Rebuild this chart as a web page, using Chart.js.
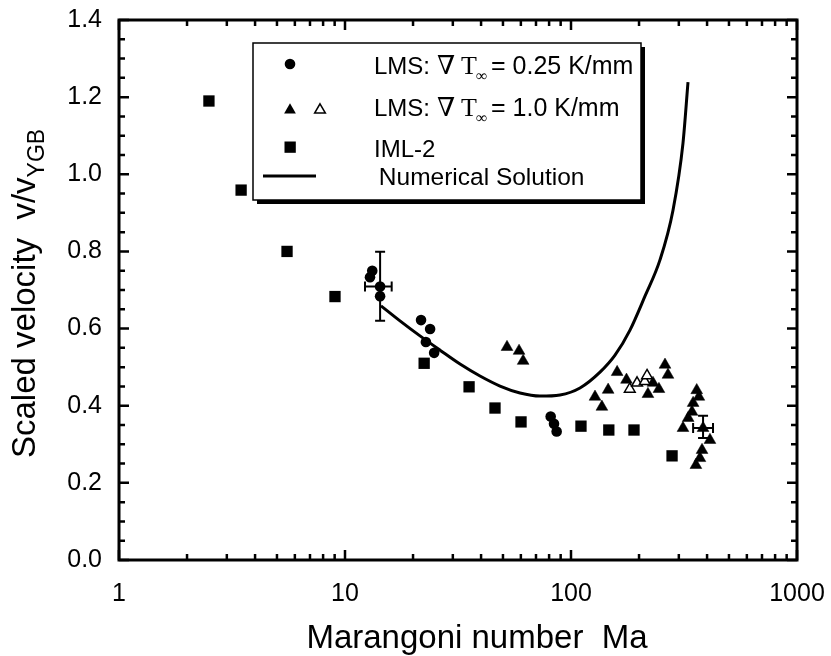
<!DOCTYPE html>
<html><head><meta charset="utf-8">
<script src="https://cdn.jsdelivr.net/npm/chart.js@4.4.0/dist/chart.umd.min.js"></script>
<style>html,body{margin:0;padding:0;background:#fff;overflow:hidden}</style>
</head><body>
<canvas id="c" width="831" height="656"></canvas>
<script>
// ---- data ----
const circleMa = [13.2, 12.9, 14.3, 14.3, 21.7, 23.8, 22.8, 24.8, 81.3, 84.1, 86.4];
const circleV  = [0.750, 0.733, 0.709, 0.684, 0.622, 0.599, 0.565, 0.537, 0.372, 0.353, 0.333];

const triMa = [52.1, 58.9, 61.4, 127.7, 137, 146, 160, 176, 219, 230.6, 245, 260.6, 268.6,
               360, 368, 347, 343, 330, 313, 384, 412, 380, 372, 357];
const triV  = [0.552, 0.542, 0.516, 0.423, 0.397, 0.441, 0.487, 0.467, 0.430, 0.459, 0.443, 0.506, 0.480,
               0.440, 0.423, 0.407, 0.384, 0.368, 0.342, 0.342, 0.311, 0.285, 0.264, 0.246];

const triOpenMa = [182, 196, 212, 217];
const triOpenV  = [0.443, 0.459, 0.463, 0.478];

const squareMa = [2.5, 3.47, 5.54, 9.03, 22.4, 35.4, 46.1, 60.1, 110.7, 147, 190, 280];
const squareV  = [1.19, 0.959, 0.800, 0.683, 0.510, 0.449, 0.394, 0.358, 0.347, 0.337, 0.337, 0.270];

const curveMa = [14.43, 17.51, 21.47, 26.33, 32.28, 39.57, 48.52, 59.48, 72.92, 89.4, 109.6, 134.4, 156.6, 182.4, 212.5, 247.6, 282.7, 313.0, 329.4];
const curveV  = [0.659, 0.620, 0.581, 0.544, 0.508, 0.477, 0.451, 0.433, 0.425, 0.428, 0.446, 0.487, 0.531, 0.596, 0.684, 0.778, 0.907, 1.081, 1.239];

// error bars: centre, x range, y range
const errMa   = [14.3, 384];
const errV    = [0.709, 0.342];
const errMaLo = [12.26, 347];
const errMaHi = [16.09, 425];
const errVLo  = [0.620, 0.316];
const errVHi  = [0.799, 0.374];

const xTickValues = [1, 10, 100, 1000];
const yTickValues = [0, 0.2, 0.4, 0.6, 0.8, 1.0, 1.2, 1.4];

const legendLabels = ['LMS: ', '= 0.25 K/mm', '= 1.0 K/mm', 'IML-2', ' Numerical Solution'];
const xTitle = 'Marangoni number  Ma';
const yTitleMain = 'Scaled velocity  v/v';
const yTitleSub = 'YGB';

// ---- chart ----
const SANS = "'Liberation Sans', Arial, Helvetica, sans-serif";
const SERIF = "'Liberation Serif', 'DejaVu Serif', serif";
const pts = (xs, ys) => xs.map((x, i) => ({x, y: ys[i]}));
const noPad = s => { s.paddingTop = 0; s.paddingBottom = 0; s.paddingLeft = 0; s.paddingRight = 0; };

const decorPlugin = {
  id: 'decor',
  afterDatasetsDraw(chart) {
    const {ctx, chartArea: a, scales: {x, y}} = chart;
    ctx.save();
    ctx.strokeStyle = '#000';
    ctx.fillStyle = '#000';
    // error bars
    ctx.lineWidth = 2;
    for (let i = 0; i < errMa.length; i++) {
      const cx = x.getPixelForValue(errMa[i]), cy = y.getPixelForValue(errV[i]);
      const xl = x.getPixelForValue(errMaLo[i]), xh = x.getPixelForValue(errMaHi[i]);
      const yl = y.getPixelForValue(errVLo[i]), yh = y.getPixelForValue(errVHi[i]);
      const c = 5;
      ctx.beginPath();
      ctx.moveTo(xl, cy); ctx.lineTo(xh, cy);
      ctx.moveTo(cx, yl); ctx.lineTo(cx, yh);
      ctx.moveTo(xl, cy - c); ctx.lineTo(xl, cy + c);
      ctx.moveTo(xh, cy - c); ctx.lineTo(xh, cy + c);
      ctx.moveTo(cx - c, yl); ctx.lineTo(cx + c, yl);
      ctx.moveTo(cx - c, yh); ctx.lineTo(cx + c, yh);
      ctx.stroke();
    }
    // frame
    ctx.lineWidth = 3;
    ctx.strokeRect(a.left, a.top, a.right - a.left, a.bottom - a.top);
    // inward ticks
    ctx.lineWidth = 2.5;
    ctx.beginPath();
    for (const d of [1, 10, 100]) {
      for (let k = 1; k <= 10; k++) {
        const v = d * k;
        const px = x.getPixelForValue(v);
        const len = (k === 1 || k === 10) ? 10 : 6;
        ctx.moveTo(px, a.bottom); ctx.lineTo(px, a.bottom - len);
        ctx.moveTo(px, a.top); ctx.lineTo(px, a.top + len);
      }
    }
    for (let i = 0; i <= 28; i++) {
      const py = y.getPixelForValue(i * 0.05);
      const len = (i % 4 === 0) ? 10 : 6;
      ctx.moveTo(a.left, py); ctx.lineTo(a.left + len, py);
      ctx.moveTo(a.right, py); ctx.lineTo(a.right - len, py);
    }
    ctx.stroke();

    // legend box
    const L = 253, T = 43, W = 388, H = 157;
    ctx.fillStyle = '#000';
    ctx.fillRect(L + 4, T + 4, W, H);
    ctx.fillStyle = '#fff';
    ctx.fillRect(L, T, W, H);
    ctx.lineWidth = 1.5;
    ctx.strokeRect(L, T, W, H);
    ctx.fillStyle = '#000';
    // markers
    ctx.beginPath(); ctx.arc(290, 64, 5.3, 0, Math.PI * 2); ctx.fill();
    const tri = (cx, cy, r, fill) => {
      ctx.beginPath();
      ctx.moveTo(cx, cy - r);
      ctx.lineTo(cx + r * 0.866, cy + r * 0.5);
      ctx.lineTo(cx - r * 0.866, cy + r * 0.5);
      ctx.closePath();
      if (fill) { ctx.fill(); } else { ctx.fillStyle = '#fff'; ctx.fill(); ctx.fillStyle = '#000'; ctx.lineWidth = 1.5; ctx.stroke(); }
    };
    tri(290, 110, 6.8, true);
    tri(320, 110, 6.2, false);
    ctx.fillRect(284.5, 141.5, 11.3, 11.3);
    ctx.lineWidth = 3;
    ctx.beginPath(); ctx.moveTo(263, 176); ctx.lineTo(316, 176); ctx.stroke();
    // legend text
    ctx.textBaseline = 'alphabetic';
    ctx.textAlign = 'left';
    const gradRow = (base, rest) => {
      ctx.font = `24px ${SANS}`;
      ctx.fillText(legendLabels[0], 374, base);
      ctx.font = `26px ${SERIF}`;
      ctx.fillText('\u2207', 437, base);
      ctx.fillText('T', 461, base);
      ctx.font = `16px ${SERIF}`;
      ctx.fillText('\u221E', 476, base + 7);
      ctx.font = `25px ${SANS}`;
      ctx.fillText(rest, 491, base);
    };
    gradRow(74, legendLabels[1]);
    gradRow(116, legendLabels[2]);
    ctx.font = `24px ${SANS}`;
    ctx.fillText(legendLabels[3], 374, 157);
    ctx.font = `24.5px ${SANS}`;
    ctx.fillText(legendLabels[4], 372, 185);

    // axis titles
    ctx.font = `33px ${SANS}`;
    ctx.textAlign = 'center';
    ctx.fillText(xTitle, 477, 648);
    ctx.textAlign = 'left';
    ctx.save();
    ctx.translate(35, 458);
    ctx.rotate(-Math.PI / 2);
    ctx.font = `33px ${SANS}`;
    ctx.fillText(yTitleMain, 0, 0);
    const w = ctx.measureText(yTitleMain).width;
    ctx.font = `23px ${SANS}`;
    ctx.fillText(yTitleSub, w, 9);
    ctx.restore();
    ctx.restore();
  }
};

new Chart(document.getElementById('c'), {
  type: 'scatter',
  data: {
    datasets: [
      { label: 'LMS 0.25', data: pts(circleMa, circleV), pointStyle: 'circle', pointRadius: 5.3,
        backgroundColor: '#000', borderColor: '#000', borderWidth: 0 },
      { label: 'LMS 1.0 open', data: pts(triOpenMa, triOpenV), pointStyle: 'triangle', pointRadius: 6.2,
        backgroundColor: '#fff', borderColor: '#000', borderWidth: 1.5 },
      { label: 'LMS 1.0', data: pts(triMa, triV), pointStyle: 'triangle', pointRadius: 6.8,
        backgroundColor: '#000', borderColor: '#000', borderWidth: 0.5 },
      { label: 'IML-2', data: pts(squareMa, squareV), pointStyle: 'rect', pointRadius: 8,
        backgroundColor: '#000', borderColor: '#000', borderWidth: 0 },
      { label: 'Numerical Solution', data: pts(curveMa, curveV), showLine: true, pointRadius: 0,
        borderColor: '#000', borderWidth: 3, cubicInterpolationMode: 'monotone', fill: false }
    ]
  },
  options: {
    responsive: false,
    animation: false,
    devicePixelRatio: 1,
    layout: { padding: { top: 20, right: 34, left: 0, bottom: 0 } },
    plugins: { legend: { display: false }, tooltip: { enabled: false } },
    scales: {
      x: {
        type: 'logarithmic', min: 1, max: 1000,
        afterBuildTicks: s => { s.ticks = xTickValues.map(v => ({ value: v })); },
        afterFit: s => { s.height = 96; noPad(s); },
        grid: { display: false, drawTicks: false },
        border: { display: false },
        ticks: { callback: v => String(v), font: { family: SANS, size: 25 }, color: '#000',
                 padding: 19, maxRotation: 0, autoSkip: false }
      },
      y: {
        min: 0, max: 1.4,
        afterBuildTicks: s => { s.ticks = yTickValues.map(v => ({ value: v })); },
        afterFit: s => { s.width = 119; noPad(s); },
        grid: { display: false, drawTicks: false },
        border: { display: false },
        ticks: { callback: v => Number(v).toFixed(1), font: { family: SANS, size: 25 }, color: '#000',
                 padding: 17, autoSkip: false }
      }
    }
  },
  plugins: [decorPlugin]
});
</script>
</body></html>
